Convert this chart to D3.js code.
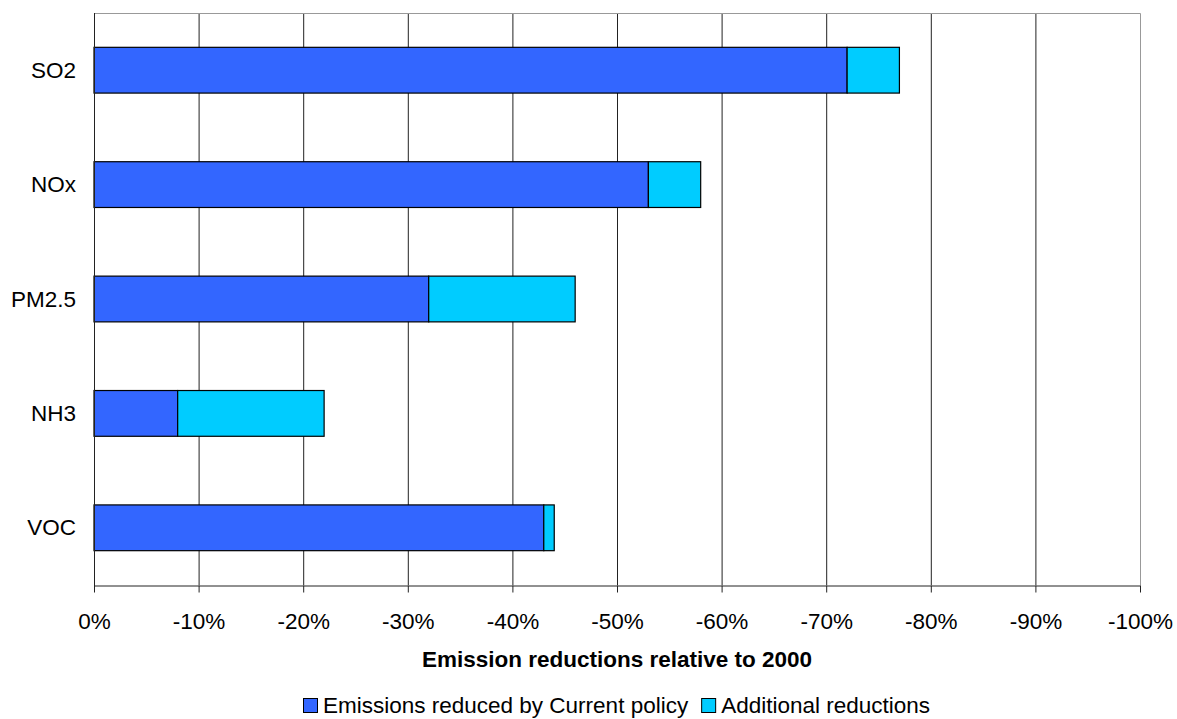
<!DOCTYPE html>
<html>
<head>
<meta charset="utf-8">
<script src="https://cdn.jsdelivr.net/npm/d3@7"></script>
<style>
  body { margin: 0; background: #fff; }
  svg { display: block; font-family: "Liberation Sans", Arial, sans-serif; }
</style>
</head>
<body>
<svg id="chart" width="1177" height="719"></svg>
<script>
// Pollutants and their reductions (percent, relative to 2000)
const categories = ["SO2", "NOx", "PM2.5", "NH3", "VOC"];
const currentPolicy = [72, 53, 32, 8, 43];
const additional = [5, 5, 14, 14, 1];
const xTicks = [0, -10, -20, -30, -40, -50, -60, -70, -80, -90, -100];
const seriesNames = ["Emissions reduced by Current policy", "Additional reductions"];
const seriesColors = ["#3366FF", "#00CCFF"];

const FONT = 22.5;
const svg = d3.select("#chart");
const margin = { left: 94, top: 13, right: 37, bottom: 134 };
const W = 1177, H = 719;
const x0 = margin.left, x1 = W - margin.right;
const y0 = margin.top, y1 = H - margin.bottom;

const x = d3.scaleLinear().domain([0, -100]).range([x0, x1]);
const y = d3.scaleBand().domain(categories).range([y0, y1]).paddingInner(0.6).paddingOuter(0.3);

// gridlines
svg.append("g").selectAll("line").data(xTicks.slice(1, -1)).join("line")
  .attr("x1", d => x(d) + 0.5).attr("x2", d => x(d) + 0.5)
  .attr("y1", y0).attr("y2", y1)
  .attr("stroke", "#222").attr("stroke-width", 1);

// plot frame (top and right in grey)
svg.append("path")
  .attr("d", `M${x0},${y0 + 0.5}H${x1 + 0.5}V${y1}`)
  .attr("fill", "none").attr("stroke", "#999").attr("stroke-width", 1);

// stacked bars
const stacked = categories.map((c, i) => ({
  cat: c,
  parts: [
    { s: 0, from: 0, to: -currentPolicy[i] },
    { s: 1, from: -currentPolicy[i], to: -(currentPolicy[i] + additional[i]) }
  ]
}));
const rows = svg.append("g").selectAll("g").data(stacked).join("g");
rows.selectAll("rect").data(d => d.parts.map(p => ({ ...p, cat: d.cat }))).join("rect")
  .attr("x", d => x(d.from))
  .attr("width", d => x(d.to) - x(d.from))
  .attr("y", d => y(d.cat))
  .attr("height", y.bandwidth())
  .attr("fill", d => seriesColors[d.s])
  .attr("stroke", "#000").attr("stroke-width", 1.2);

// x axis
const xAxis = d3.axisBottom(x).tickValues(xTicks).tickFormat(d => d + "%").tickSize(7).tickSizeOuter(0);
const gx = svg.append("g").attr("transform", `translate(0,${y1 + 0.5})`).call(xAxis);
gx.select(".domain").attr("stroke", "#222");
gx.selectAll(".tick line").attr("stroke", "#222");
gx.selectAll(".tick text").attr("font-size", FONT).attr("fill", "#000")
  .attr("y", 43.5).attr("dy", null)
  .attr("font-family", "Liberation Sans, Arial, sans-serif");

// y axis line and labels
svg.append("line").attr("x1", x0 + 0.5).attr("x2", x0 + 0.5).attr("y1", y0).attr("y2", y1 + 7)
  .attr("stroke", "#222");
svg.append("g").selectAll("text").data(categories).join("text")
  .attr("x", x0 - 18).attr("y", d => y(d) + y.bandwidth() / 2)
  .attr("text-anchor", "end").attr("dominant-baseline", "central")
  .attr("font-size", FONT).attr("fill", "#000").text(d => d);

// axis title
svg.append("text").attr("x", (x0 + x1) / 2).attr("y", 667)
  .attr("text-anchor", "middle").attr("font-size", FONT).attr("font-weight", "bold")
  .text("Emission reductions relative to 2000");

// legend, centred under the plot
const legend = svg.append("g");
let lx = 0;
seriesNames.forEach((name, i) => {
  const g = legend.append("g").attr("transform", `translate(${lx},0)`);
  g.append("rect").attr("x", 0.5).attr("y", -14.5).attr("width", 14).attr("height", 14)
    .attr("fill", seriesColors[i]).attr("stroke", "#000").attr("stroke-width", 1);
  const t = g.append("text").attr("x", 20).attr("y", 0)
    .attr("font-size", FONT).text(name);
  lx += 20 + t.node().getComputedTextLength() + 13;
});
const legendWidth = lx - 13;
legend.attr("transform", `translate(${Math.round((x0 + x1) / 2 - legendWidth / 2)},713)`);
</script>
</body>
</html>
